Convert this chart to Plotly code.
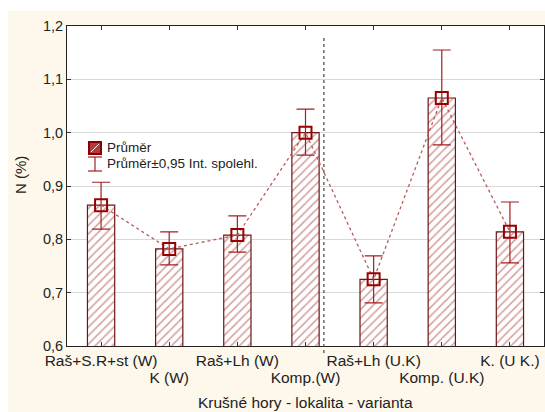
import plotly.graph_objects as go

# Nitrogen content by locality / variant (Krušné hory)
categories = ["Raš+S.R+st (W)", "K (W)", "Raš+Lh (W)", "Komp.(W)",
              "Raš+Lh (U.K)", "Komp. (U.K)", "K. (U K.)"]
means = [0.864, 0.782, 0.808, 1.000, 0.725, 1.065, 0.814]
ci_upper = [0.907, 0.814, 0.844, 1.044, 0.769, 1.155, 0.870]
ci_lower = [0.819, 0.752, 0.776, 0.958, 0.681, 0.977, 0.756]
y_ticks = [0.6, 0.7, 0.8, 0.9, 1.0, 1.1, 1.2]

pos = list(range(len(categories)))
# labels alternate between two rows so they do not collide
row1_text = [c if i % 2 == 0 else "" for i, c in enumerate(categories)]
row2_vals = [p for p in pos if p % 2 == 1]
row2_text = [categories[p] for p in row2_vals]

err_plus = [u - m for u, m in zip(ci_upper, means)]
err_minus = [m - l for m, l in zip(means, ci_lower)]

# plot area in pixels: left 67, right 544, top 26, bottom 346
L, R, T, B = 67, 544, 26, 346
def px(x):
    return (x - L) / (R - L)
def py(y):
    return (B - y) / (B - T)

fig = go.Figure()
fig.add_trace(go.Bar(
    x=pos, y=means, width=0.4,
    marker=dict(color="white",
                line=dict(color="#6E1515", width=1.2),
                pattern=dict(shape="/", fgcolor="#A83838", bgcolor="white",
                             size=6, solidity=0.25)),
    showlegend=False, hoverinfo="skip",
))
# means with confidence intervals, on the overlaid axis that carries the
# second row of category labels
fig.add_trace(go.Scatter(
    x=pos, y=means, xaxis="x2", mode="lines+markers",
    line=dict(color="#B85A5A", width=1.3, dash="dot"),
    marker=dict(symbol="square-open", size=12, color="#990000",
                line=dict(width=2, color="#990000")),
    error_y=dict(type="data", symmetric=False, array=err_plus,
                 arrayminus=err_minus, color="#A02020",
                 thickness=1.2, width=9),
    showlegend=False,
))

shapes = [
    # cream outer panel
    dict(type="rect", xref="paper", yref="paper", layer="below",
         x0=px(8), x1=px(546), y0=py(413), y1=py(11),
         fillcolor="#FDF8EB", line=dict(width=0)),
    # white plot area
    dict(type="rect", xref="paper", yref="paper", layer="below",
         x0=0, x1=1, y0=0, y1=1, fillcolor="white", line=dict(width=0)),
    # separator between localities
    dict(type="line", xref="x", yref="paper", x0=3.27, x1=3.27,
         y0=py(353), y1=py(35), line=dict(color="#444444", width=1.2, dash="dot")),
    # legend: mean symbol
    dict(type="rect", xref="paper", yref="paper",
         x0=px(89), x1=px(101), y0=py(154), y1=py(142),
         fillcolor="#B53B3B", line=dict(color="#8B0000", width=2)),
    dict(type="line", xref="paper", yref="paper",
         x0=px(91), x1=px(99), y0=py(152), y1=py(144),
         line=dict(color="white", width=1)),
    # legend: confidence interval symbol
    dict(type="line", xref="paper", yref="paper",
         x0=px(95), x1=px(95), y0=py(171), y1=py(157),
         line=dict(color="#A02020", width=1.2)),
    dict(type="line", xref="paper", yref="paper",
         x0=px(88), x1=px(102), y0=py(157), y1=py(157),
         line=dict(color="#A02020", width=1.2)),
    dict(type="line", xref="paper", yref="paper",
         x0=px(88), x1=px(102), y0=py(171), y1=py(171),
         line=dict(color="#A02020", width=1.2)),
]

font_family = "Liberation Sans, Arial, sans-serif"
text_color = "#222222"
annotations = [
    dict(text="Průměr", xref="paper", yref="paper", x=px(105), y=py(147.5),
         xanchor="left", yanchor="middle", showarrow=False,
         font=dict(size=13.5, color=text_color)),
    dict(text="Průměr±0,95 Int. spolehl.", xref="paper", yref="paper",
         x=px(105), y=py(163.5), xanchor="left", yanchor="middle",
         showarrow=False, font=dict(size=13.5, color=text_color)),
    dict(text="Krušné hory - lokalita - varianta", xref="paper", yref="paper",
         x=0.5, y=py(402), xanchor="center", yanchor="middle",
         showarrow=False, font=dict(size=15.5, color=text_color)),
    dict(text="N (%)", xref="paper", yref="paper", x=px(20), y=py(175),
         xanchor="center", yanchor="middle", textangle=-90,
         showarrow=False, font=dict(size=15, color=text_color)),
]

fig.update_layout(
    width=545, height=412,
    margin=dict(l=L, r=545 - R, t=T, b=412 - B),
    paper_bgcolor="white", plot_bgcolor="white",
    separators=",.",
    font=dict(family=font_family, size=14, color=text_color),
    shapes=shapes, annotations=annotations,
    xaxis=dict(
        range=[-0.5, 6.5], tickvals=pos, ticktext=row1_text,
        ticks="inside", ticklen=4, tickcolor="#333333",
        showline=True, linecolor="#222222", linewidth=1, mirror="ticks",
        showgrid=False, zeroline=False, tickangle=0,
        tickfont=dict(size=15.5, color=text_color),
    ),
    xaxis2=dict(
        overlaying="x", anchor="y", side="bottom",
        range=[-0.5, 6.5], tickvals=row2_vals, ticktext=row2_text,
        ticks="", showline=False, showgrid=False, zeroline=False,
        ticklabelstandoff=20, tickangle=0,
        tickfont=dict(size=15.5, color=text_color),
    ),
    yaxis=dict(
        range=[0.6, 1.2], tickvals=y_ticks, tickformat=".1f",
        ticks="inside", ticklen=4, tickcolor="#333333",
        showline=True, linecolor="#222222", linewidth=1, mirror="ticks",
        showgrid=True, gridcolor="#D9D9D9", gridwidth=1, zeroline=False,
        tickfont=dict(size=14.5, color=text_color),
    ),
)

fig.write_html("out.html")
